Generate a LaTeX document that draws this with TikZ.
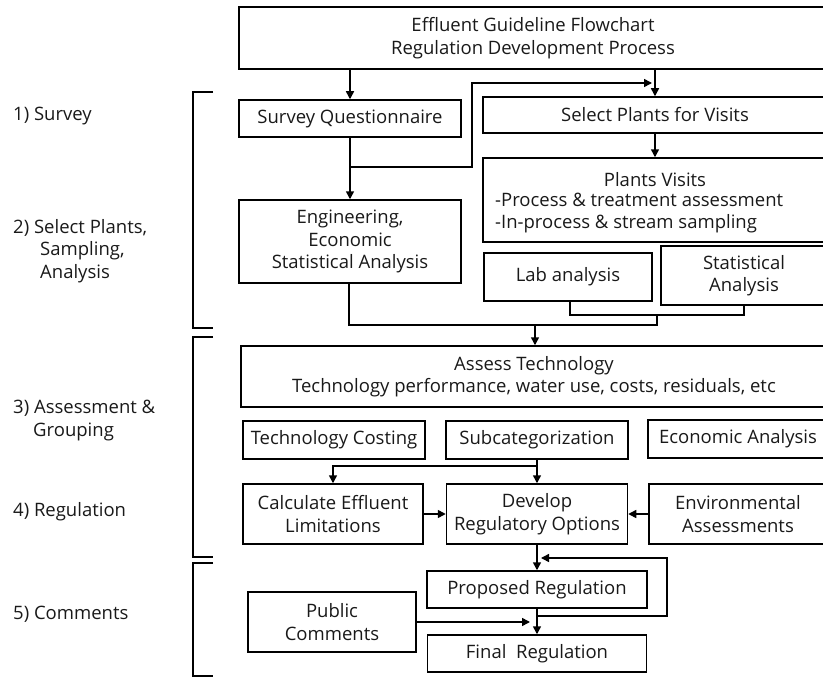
\documentclass[tikz,border=0pt]{standalone}
\usepackage{fontspec}
\setmainfont{Open Sans}
\usetikzlibrary{arrows.meta}
\begin{document}
\begin{tikzpicture}[x=1pt,y=-1pt,
  every node/.style={font=\fontsize{18.5}{22.5}\selectfont, inner sep=0pt, text=black!90},
  bx/.style={draw=black, line width=1.5pt, align=center},
  ln/.style={line width=1.5pt},
  arr/.style={line width=1.5pt, -{Triangle[length=8pt,width=8pt]}},
  lbl/.style={anchor=west, align=left}]
\useasboundingbox (0,0) rectangle (823,677);

% left labels
\node[lbl] (l1) at (13,116) {1) Survey};
\node[lbl] (l2) at (13,251) {2) Select Plants,\\\hspace*{27pt}Sampling,\\\hspace*{27pt}Analysis};
\node[lbl] (l3) at (13,420.5) {3) Assessment \&\\\hspace*{20pt}Grouping};
\node[lbl] (l4) at (13,512) {4) Regulation};
\node[lbl] (l5) at (13,614) {5) Comments};

% brackets
\draw[ln] (213,92) -- (193,92) -- (193,328) -- (213,328);
\draw[ln] (213,337) -- (193,337) -- (193,557) -- (213,557);
\draw[ln] (213,563) -- (193,563) -- (193,676) -- (213,676);

% boxes
\node[bx, minimum width=588pt, minimum height=62pt] (title) at (533,38) {Effluent Guideline Flowchart\\Regulation Development Process};
\node[bx, minimum width=222pt, minimum height=37pt] (survey) at (350,118.5) {Survey Questionnaire};
\node[bx, minimum width=344pt, minimum height=36pt] (select) at (655,115) {Select Plants for Visits};
\node[bx, minimum width=344pt, minimum height=84pt] (visits) at (655,200) {};
\node (visitsT) at (655,180) {Plants Visits};
\node[lbl] (visitsL) at (495,213) {-Process \& treatment assessment\\-In-process \& stream sampling};
\node[bx, minimum width=222pt, minimum height=83pt] (eng) at (350,241.5) {Engineering,\\Economic\\Statistical Analysis};
\node[bx, minimum width=168pt, minimum height=48pt] (lab) at (568,277) {Lab analysis};
\node[bx, minimum width=166pt, minimum height=59pt] (stat) at (744,275.5) {Statistical\\Analysis};
\node[bx, minimum width=586pt, minimum height=61pt] (assess) at (534,376.5) {Assess Technology\\Technology performance, water use, costs, residuals, etc};
\node[bx, minimum width=182pt, minimum height=38pt] (costing) at (334,440) {Technology Costing};
\node[bx, minimum width=182pt, minimum height=38pt] (subcat) at (537,440) {Subcategorization};
\node[bx, minimum width=180pt, minimum height=38pt] (econ) at (738,439) {Economic Analysis};
\node[bx, minimum width=180pt, minimum height=60pt] (calc) at (333,514) {Calculate Effluent\\Limitations};
\node[bx, minimum width=181pt, minimum height=60pt] (develop) at (537,514) {Develop\\Regulatory Options};
\node[bx, minimum width=178pt, minimum height=60pt] (env) at (738,514) {Environmental\\Assessments};
\node[bx, minimum width=220pt, minimum height=37pt] (proposed) at (537,589.5) {Proposed Regulation};
\node[bx, minimum width=168pt, minimum height=60pt] (public) at (332,622) {Public\\Comments};
\node[bx, minimum width=219pt, minimum height=37pt] (final) at (537,653.5) {Final~~Regulation};

% connectors
\coordinate (jA) at (350,167);
\coordinate (jB) at (472,167);
\coordinate (jC) at (472,83);
\coordinate (jD) at (652,83);
\draw[arr] (survey.north |- title.south) -- (survey.north);
\draw[arr] (select.north |- title.south) -- (select.north);
\draw[arr] (survey.south) -- (eng.north);
\draw[arr] (jA) -- (jB) -- (jC) -- (jD);
\draw[arr] (select.south) -- (visits.north);

\coordinate (kL) at (570,315);
\coordinate (kR) at (744,315);
\coordinate (kM) at (657,315);
\coordinate (kE) at (349,325);
\coordinate (kF) at (657,325);
\coordinate (kA) at (535,325);
\draw[ln] (570,301) -- (kL) -- (kR) -- (stat.south);
\draw[ln] (eng.south -| kE) -- (kE) -- (kF) -- (kM);
\draw[arr] (kA) -- (assess.north -| kA);

\coordinate (sA) at (537,466);
\coordinate (sB) at (333,466);
\draw[arr] (subcat.south) -- (develop.north);
\draw[arr] (sA) -- (sB) -- (calc.north);
\draw[arr] (calc.east) -- (develop.west);
\draw[arr] (env.west) -- (develop.east);

\coordinate (pA) at (537,616);
\coordinate (pB) at (667,616);
\coordinate (pC) at (667,558);
\coordinate (pD) at (541,558);
\coordinate (pE) at (530,622);
\draw[arr] (develop.south) -- (proposed.north);
\draw[arr] (proposed.south) -- (final.north);
\draw[arr] (pA) -- (pB) -- (pC) -- (pD);
\draw[arr] (public.east) -- (pE);
\end{tikzpicture}
\end{document}
